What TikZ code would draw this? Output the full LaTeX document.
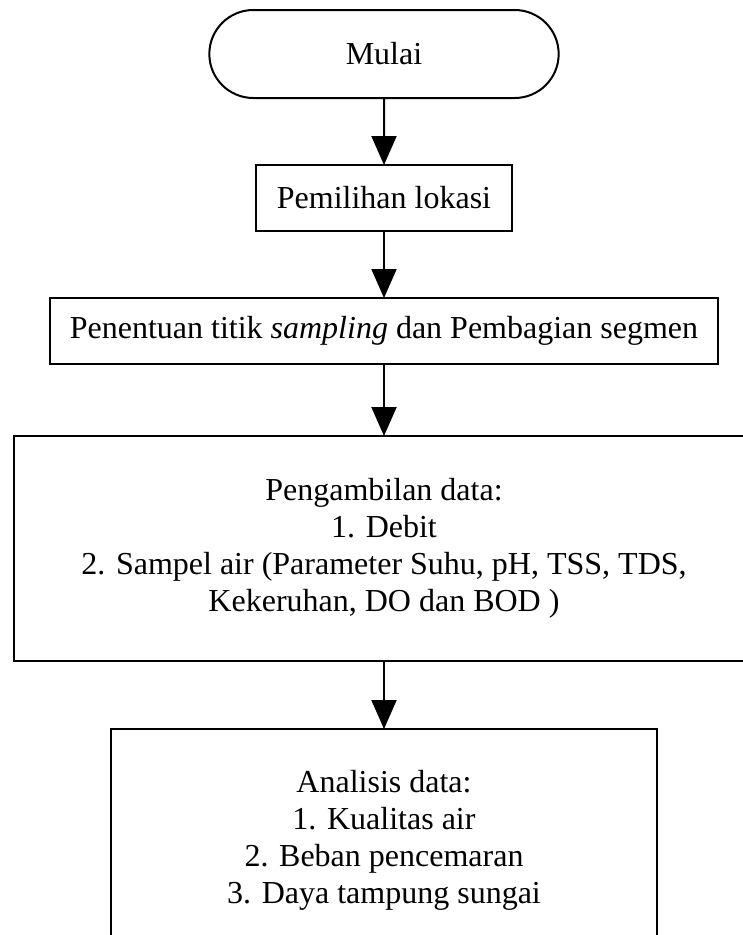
\documentclass[tikz,border=0pt]{standalone}
\usepackage{fontspec}
\setmainfont{Liberation Serif}
\usetikzlibrary{arrows.meta,positioning,shapes.misc}

\begin{document}
\begin{tikzpicture}[x=1pt,y=1pt,>={Triangle[width=25pt,length=29pt]},node distance=67pt,
    font=\fontsize{32}{37}\selectfont,
    every node/.style={draw,line width=2pt,outer sep=0pt,align=center},
    term/.style={rounded rectangle,minimum width=356pt,minimum height=88pt},
    proc/.style={rectangle,minimum height=66pt}]
  \useasboundingbox (0,0) rectangle (743,-935);
  			\node[term]  (mulai) at (384,-54)  {Mulai};
  			\node[proc,minimum width=256pt] (lokasi) [below=of mulai] {Pemilihan lokasi};
  			\node[proc,minimum width=668pt] (titik) [below=of lokasi]
  			     {Penentuan titik \textit{sampling} dan Pembagian segmen};
  			\node[proc,minimum width=740pt,minimum height=225pt] (ambil) [below=72pt of titik]
  			     {Pengambilan data:\\1. Debit\\2. Sampel air (Parameter Suhu, pH, TSS, TDS,\\Kekeruhan, DO dan BOD )};
  			\node[proc,minimum width=546pt,minimum height=222pt] (analisis) [below=68pt of ambil]
  			     {Analisis data:\\1. Kualitas air\\2. Beban pencemaran\\3. Daya tampung sungai};

  			\path[->,line width=2pt] (mulai) edge (lokasi)
        	         (lokasi) edge (titik)
        	         (titik) edge (ambil)
        	         (ambil) edge (analisis);
\end{tikzpicture}
\end{document}
